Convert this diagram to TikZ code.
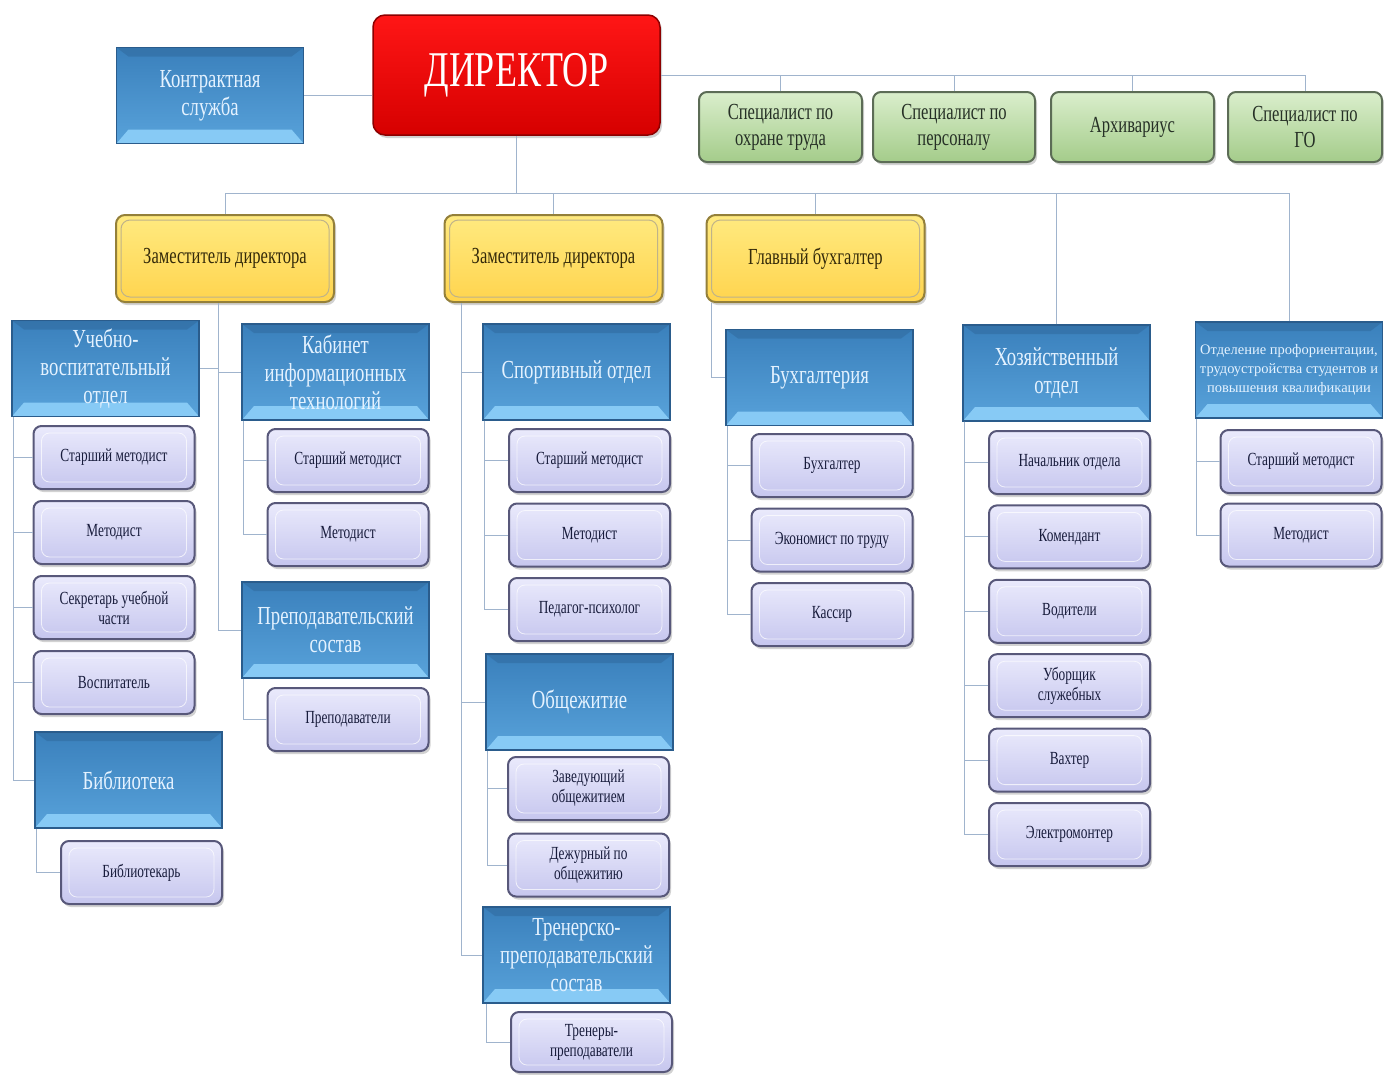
\documentclass[tikz,border=0pt]{standalone}
\usepackage{fontspec}
\setmainfont{Liberation Serif}
\newfontfamily\condfont[FakeStretch=0.72]{Liberation Serif}
\usetikzlibrary{calc, positioning, shadows}
\definecolor{linkgray}{RGB}{160,180,205}
\definecolor{bluetop}{RGB}{58,128,188}
\definecolor{bluebot}{RGB}{88,162,218}
\definecolor{blueedge}{RGB}{42,92,140}
\definecolor{bluebevel}{RGB}{135,202,245}
\definecolor{bluetext}{RGB}{228,242,255}
\definecolor{violettop}{RGB}{234,234,252}
\definecolor{violetbot}{RGB}{198,198,238}
\definecolor{violetedge}{RGB}{88,88,122}
\definecolor{violettext}{RGB}{24,28,60}
\definecolor{greentop}{RGB}{218,238,204}
\definecolor{greenbot}{RGB}{164,204,138}
\definecolor{greenedge}{RGB}{92,108,86}
\definecolor{greentext}{RGB}{38,48,38}
\definecolor{yellowtop}{RGB}{255,234,128}
\definecolor{yellowbot}{RGB}{255,212,78}
\definecolor{yellowedge}{RGB}{148,128,58}
\definecolor{yellowtext}{RGB}{52,42,10}
\definecolor{chieftop}{RGB}{255,22,22}
\definecolor{chiefbot}{RGB}{214,0,0}
\definecolor{chiefedge}{RGB}{140,0,0}

\tikzset{
  link/.style={draw=linkgray, line width=1pt},
  softshadow/.style={drop shadow={shadow xshift=2pt, shadow yshift=-3pt, opacity=0.35}},
  chiefbox/.style={rectangle, rounded corners=12pt, draw=chiefedge, line width=1.5pt,
    top color=chieftop, bottom color=chiefbot, text=white, softshadow,
    minimum width=287pt, minimum height=120pt, font=\condfont\fontsize{50}{54}\selectfont},
  bluebox/.style={rectangle, draw=blueedge, line width=1.2pt, top color=bluetop, bottom color=bluebot,
    text=bluetext, align=center, inner sep=2pt, minimum width=187pt, minimum height=96pt,
    font=\condfont\fontsize{26}{28}\selectfont,
    path picture={
      \fill[bluebevel] (path picture bounding box.south west) -- (path picture bounding box.south east)
        -- ([shift={(-12pt,14pt)}]path picture bounding box.south east)
        -- ([shift={(12pt,14pt)}]path picture bounding box.south west) -- cycle;
      \fill[blueedge, opacity=0.35] (path picture bounding box.north west) -- (path picture bounding box.north east)
        -- ([shift={(-12pt,-9pt)}]path picture bounding box.north east)
        -- ([shift={(12pt,-9pt)}]path picture bounding box.north west) -- cycle;
    }},
  violetbox/.style={rectangle, rounded corners=8pt, draw=violetedge, line width=2pt,
    top color=violettop, bottom color=violetbot, text=violettext, align=center, softshadow,
    minimum width=161pt, minimum height=63pt, inner sep=2pt,
    font=\condfont\fontsize{18.5}{20}\selectfont,
    path picture={
      \draw[white, opacity=0.7, line width=0.8pt]
        ([shift={(8pt,-7pt)}]path picture bounding box.north west)
        rectangle ([shift={(-8pt,7pt)}]path picture bounding box.south east);
    }},
  greenbox/.style={rectangle, rounded corners=8pt, draw=greenedge, line width=2pt,
    top color=greentop, bottom color=greenbot, text=greentext, align=center, softshadow,
    minimum height=70pt, inner sep=2pt, font=\condfont\fontsize{23}{26}\selectfont},
  yellowbox/.style={rectangle, rounded corners=9pt, draw=yellowedge, line width=2pt,
    top color=yellowtop, bottom color=yellowbot, text=yellowtext, align=center, softshadow,
    minimum width=218pt, minimum height=87pt, font=\condfont\fontsize{23}{26}\selectfont,
    path picture={
      \draw[yellowedge!60, line width=1pt]
        ([shift={(5pt,-5pt)}]path picture bounding box.north west)
        rectangle ([shift={(-5pt,5pt)}]path picture bounding box.south east);
    }}
}

\begin{document}
\begin{tikzpicture}[x=1pt, y=-1pt]
  \useasboundingbox[fill=white] (0,0) rectangle (1384,1074);

  % Director and staff under him
  \node[chiefbox] (chief) at (516.5,75) {ДИРЕКТОР};
  \node[bluebox] (contract) at (210,95.5) {Контрактная\\служба};
  \node[greenbox, minimum width=163pt] (spot) at (780.5,127) {Специалист по\\охране труда};
  \node[greenbox, minimum width=162pt] (sppers) at (954,127) {Специалист по\\персоналу};
  \node[greenbox, minimum width=163pt] (arch) at (1132.5,127) {Архивариус};
  \node[greenbox, minimum width=154pt] (spgo) at (1305,127) {Специалист по\\ГО};

  \draw[link] (contract.east) -- (contract.east -| chief.west);
  \draw[link] (chief.east) -- (spgo.north |- chief.east);
  \foreach \g in {spot,sppers,arch,spgo}
    \draw[link] (\g.north) -- (\g.north |- chief.east);

  % Deputies and chief accountant
  \node[yellowbox] (dep1) at (225,258.5) {Заместитель директора};
  \node[yellowbox] (dep2) at (553.5,258.5) {Заместитель директора};
  \node[yellowbox] (gbuh) at (815.5,258.5) {Главный бухгалтер};

  % Departments
  \node[bluebox] (uvo) at (105.5,368.5) {Учебно-\\воспитательный\\отдел};
  \node[bluebox] (kit) at (335.5,372) {Кабинет\\информационных\\технологий};
  \node[bluebox] (prep) at (335.5,630) {Преподавательский\\состав};
  \node[bluebox] (bib) at (128.5,780) {Библиотека};
  \node[bluebox] (sport) at (576.5,372) {Спортивный отдел};
  \node[bluebox] (obsh) at (579.5,702) {Общежитие};
  \node[bluebox] (trener) at (576.5,955) {Тренерско-\\преподавательский\\состав};
  \node[bluebox] (buh) at (819.5,377.5) {Бухгалтерия};
  \node[bluebox] (hoz) at (1056.5,373) {Хозяйственный\\отдел};
  \node[bluebox, font=\rmfamily\fontsize{14.5}{19}\selectfont] (otd) at (1289,370)
    {Отделение профориентации,\\трудоустройства студентов и\\повышения квалификации};

  % Main bus
  \coordinate (bus) at (516.5,193);
  \draw[link] (chief.south) -- (bus);
  \draw[link] (dep1.north |- bus) -- (otd.north |- bus);
  \foreach \d in {dep1,dep2,gbuh,hoz,otd}
    \draw[link] (\d.north) -- (\d.north |- bus);

  % Staff
  \foreach \txt [count=\i] in {Старший методист, Методист, {Секретарь учебной\\части}, Воспитатель}
    \node[violetbox] (uvo-\i) at (114,{457.5+75*(\i-1)}) {\txt};
  \node[violetbox] (bib-1) at (141.5,872.5) {Библиотекарь};
  \foreach \txt [count=\i] in {Старший методист, Методист}
    \node[violetbox] (kit-\i) at (348,{460.5+74*(\i-1)}) {\txt};
  \node[violetbox] (prep-1) at (348,719.5) {Преподаватели};
  \foreach \txt [count=\i] in {Старший методист, Методист, Педагог-психолог}
    \node[violetbox] (sport-\i) at (589.5,{460.5+74.5*(\i-1)}) {\txt};
  \foreach \txt [count=\i] in {{Заведующий\\общежитием}, {Дежурный по\\общежитию}}
    \node[violetbox] (obsh-\i) at (588.5,{788.5+76.5*(\i-1)}) {\txt};
  \node[violetbox, minimum height=60pt] (trener-1) at (591.5,1042) {Тренеры-\\преподаватели};
  \foreach \txt [count=\i] in {Бухгалтер, Экономист по труду, Кассир}
    \node[violetbox] (buh-\i) at (832,{465.5+74.5*(\i-1)}) {\txt};
  \foreach \txt [count=\i] in {Начальник отдела, Комендант, Водители, {Уборщик\\служебных}, Вахтер, Электромонтер}
    \node[violetbox] (hoz-\i) at (1069.5,{462.5+74.4*(\i-1)}) {\txt};
  \foreach \txt [count=\i] in {Старший методист, Методист}
    \node[violetbox] (otd-\i) at (1301,{461.5+73.5*(\i-1)}) {\txt};

  % Branch lines
  \foreach \u in {uvo.east, kit.west, prep.west}
    \draw[link] ($(dep1.south west)+(103,0)$) |- (\u);
  \foreach \u in {sport, obsh, trener}
    \draw[link] ($(dep2.south west)+(18,0)$) |- (\u.west);
  \draw[link] ($(gbuh.south west)+(6,0)$) |- (buh.west);

  \foreach \i in {1,...,4}
    \draw[link] ($(uvo.south west)+(2,0)$) |- (uvo-\i.west);
  \draw[link] ($(uvo.south west)+(2,0)$) |- (bib.west);
  \draw[link] ($(bib.south west)+(2,0)$) |- (bib-1.west);
  \foreach \i in {1,2}
    \draw[link] ($(kit.south west)+(2,0)$) |- (kit-\i.west);
  \draw[link] ($(prep.south west)+(2,0)$) |- (prep-1.west);
  \foreach \i in {1,2,3}
    \draw[link] ($(sport.south west)+(2,0)$) |- (sport-\i.west);
  \foreach \i in {1,2}
    \draw[link] ($(obsh.south west)+(2,0)$) |- (obsh-\i.west);
  \draw[link] ($(trener.south west)+(4,0)$) |- (trener-1.west);
  \foreach \i in {1,2,3}
    \draw[link] ($(buh.south west)+(2,0)$) |- (buh-\i.west);
  \foreach \i in {1,...,6}
    \draw[link] ($(hoz.south west)+(2,0)$) |- (hoz-\i.west);
  \foreach \i in {1,2}
    \draw[link] ($(otd.south west)+(2,0)$) |- (otd-\i.west);
\end{tikzpicture}
\end{document}
